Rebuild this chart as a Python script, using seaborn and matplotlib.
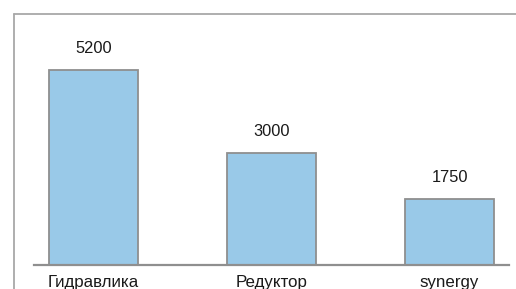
import seaborn as sns
import matplotlib.pyplot as plt
from matplotlib.lines import Line2D

categories = ["Гидравлика", "Редуктор", "synergy"]
values = [5200, 3000, 1750]

sns.set_style("white")
plt.rcParams['font.family'] = ['Liberation Sans', 'DejaVu Sans']

fig = plt.figure(figsize=(5.16, 2.89), dpi=100)
ax = fig.add_axes([34 / 516, 24 / 289, 475 / 516, 252 / 289])

sns.barplot(x=categories, y=values, color="#99c9e8", saturation=1,
            width=0.495, edgecolor="#8f8f8f", linewidth=1.3, ax=ax)

for c in ax.containers:
    ax.bar_label(c, labels=[str(v) for v in values], padding=10,
                 fontsize=11.8, color="#1a1a1a")

ax.set(xlim=(-0.334, 2.334), ylim=(0, 6720))
ax.set_yticks([])
sns.despine(ax=ax, left=True, top=True, right=True)
ax.spines['bottom'].set_color("#8f8f8f")
ax.spines['bottom'].set_linewidth(1.6)
ax.tick_params(axis='x', length=0, pad=7.5, labelsize=12.2, labelcolor="#1a1a1a")

# outer chart-area border (cropped)
fig.add_artist(Line2D([13.5 / 516, 13.5 / 516], [0, 1 - 13.5 / 289],
                      transform=fig.transFigure, color="#a8a8a8", lw=1.3))
fig.add_artist(Line2D([13.5 / 516, 1], [1 - 13.5 / 289, 1 - 13.5 / 289],
                      transform=fig.transFigure, color="#a8a8a8", lw=1.3))

plt.savefig("out.png", dpi=100)
